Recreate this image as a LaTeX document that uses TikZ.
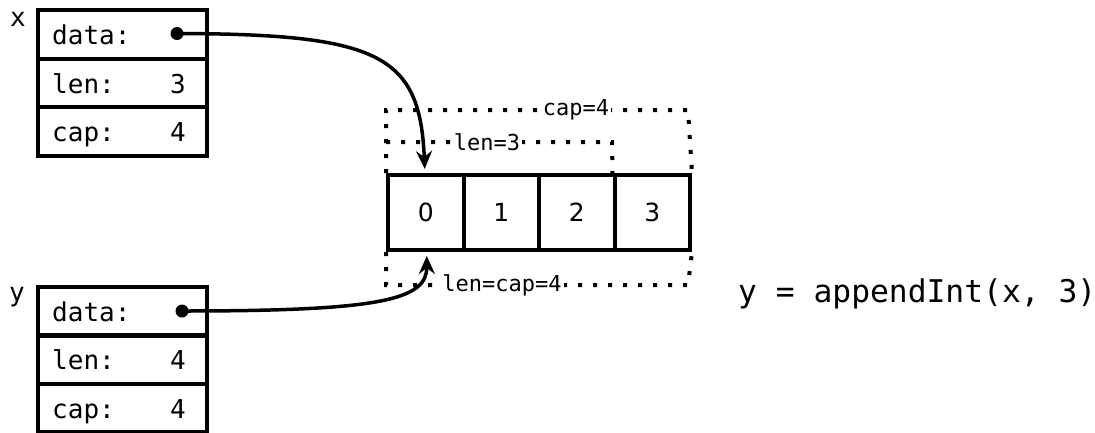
\documentclass[tikz,border=0pt]{standalone}
\usepackage{fontspec}
\setmonofont{DejaVu Sans Mono}
\setsansfont{DejaVu Sans}
\usetikzlibrary{arrows.meta}
\tikzset{
  field/.style={draw, line width=4pt, minimum width=169pt, minimum height=48.5pt, inner sep=0pt, anchor=north west},
  slot/.style={draw, line width=4pt, minimum width=75.5pt, minimum height=75pt, inner sep=0pt, anchor=north west, font=\sffamily\fontsize{25}{30}\selectfont},
  lbl/.style={inner sep=0pt, font=\ttfamily\fontsize{26}{30}\selectfont},
  small/.style={fill=white, inner sep=2pt, font=\ttfamily\fontsize{22}{26}\selectfont},
  dots/.style={line width=4pt, dash pattern=on 4pt off 11pt},
  ptr/.style={line width=3.5pt, -{Stealth[length=18pt, width=16pt, inset=6pt]}},
}
\begin{document}
\begin{tikzpicture}[x=1pt, y=-1pt]
\useasboundingbox (0,0) rectangle (1095,432);
% x struct
\node[field] (x1) at (36,8) {};
\node[field] (x2) at (36,56.5) {};
\node[field] (x3) at (36,105) {};
\node[lbl] (xname) at (18,19) {x};
\node[lbl, anchor=base west] (x1l) at ([xshift=16pt, yshift=-10.5pt]x1.west) {data:};
\node[lbl, anchor=base west] (x2l) at ([xshift=16pt, yshift=-10.5pt]x2.west) {len:};
\node[lbl, anchor=base west] (x3l) at ([xshift=16pt, yshift=-10.5pt]x3.west) {cap:};
\node[lbl, anchor=base east] (x2v) at ([xshift=-23pt, yshift=-10.5pt]x2.east) {3};
\node[lbl, anchor=base east] (x3v) at ([xshift=-23pt, yshift=-10.5pt]x3.east) {4};
\coordinate (xd) at (177,33.5);
% y struct
\node[field] (y1) at (36,285) {};
\node[field] (y2) at (36,333) {};
\node[field] (y3) at (36,381.5) {};
\node[lbl] (yname) at (17,297) {y};
\node[lbl, anchor=base west] (y1l) at ([xshift=16pt, yshift=-10.5pt]y1.west) {data:};
\node[lbl, anchor=base west] (y2l) at ([xshift=16pt, yshift=-10.5pt]y2.west) {len:};
\node[lbl, anchor=base west] (y3l) at ([xshift=16pt, yshift=-10.5pt]y3.west) {cap:};
\node[lbl, anchor=base east] (y2v) at ([xshift=-23pt, yshift=-10.5pt]y2.east) {4};
\node[lbl, anchor=base east] (y3v) at ([xshift=-23pt, yshift=-10.5pt]y3.east) {4};
\coordinate (yd) at (182,311);
% array
\node[slot] (a0) at (386,173) {0};
\node[slot] (a1) at (461.5,173) {1};
\node[slot] (a2) at (537,173) {2};
\node[slot] (a3) at (612.5,173) {3};
% dotted brackets
\coordinate (capL) at (386,110);
\coordinate (capR) at (688,110);
\coordinate (lenL) at (386,142);
\coordinate (lenR) at (612,142);
\coordinate (botL) at (386,285);
\coordinate (botR) at (688,285);
\draw[dots] (a0.north west) -- (capL) -- (capR) -- (a3.north east);
\draw[dots] (lenL) -- (lenR) -- (a3.north west);
\draw[dots] (a0.south west) -- (botL) -- (botR) -- (a3.south east);
\node[small] (capt) at (576,110) {cap=4};
\node[small] (lent) at (487,142) {len=3};
\node[small] (bott) at (502,285) {len=cap=4};
% pointers
\fill (xd) circle (6.5pt);
\fill (yd) circle (6.5pt);
\coordinate (xtip) at ([xshift=-1pt, yshift=4pt]a0.north);
\coordinate (ytip) at ([xshift=1pt, yshift=-4pt]a0.south);
\draw[ptr] (xd) .. controls (380,34) and (420,55) .. (xtip);
\draw[ptr] (yd) .. controls (380,311) and (427,300) .. (ytip);
% call
\node[lbl, anchor=west, font=\ttfamily\fontsize{31.3}{36}\selectfont] (call) at (738,294) {y = appendInt(x, 3)};
\end{tikzpicture}
\end{document}
